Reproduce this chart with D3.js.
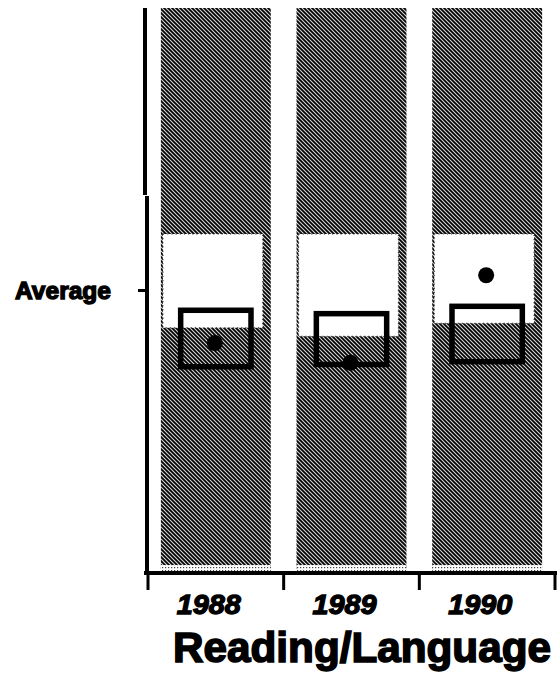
<!DOCTYPE html>
<html>
<head>
<meta charset="utf-8">
<script src="https://cdn.jsdelivr.net/npm/d3@7"></script>
<style>
  html, body { margin: 0; padding: 0; background: #fff; }
  svg { display: block; }
  text { font-family: "Liberation Sans", Arial, sans-serif; fill: #000; }
</style>
</head>
<body>
<svg id="chart" width="559" height="681"></svg>
<script>
// ---- data (scale 0..100, "Average" = 50) ----
const years      = ["1988", "1989", "1990"];
const bandHigh   = [60.0, 60.0, 60.0];   // top of the white (average) band
const bandLow    = [43.4, 41.9, 44.2];   // bottom of the white band
const boxHigh    = [46.5, 45.9, 47.2];   // open box top
const boxLow     = [36.5, 36.9, 37.4];   // open box bottom
const dotValues  = [40.7, 37.2, 52.7];   // black dot
const yTickValues = [50];
const yTickLabels = ["Average"];
const title = "Reading/Language";

const svg = d3.select("#chart");

const x = d3.scaleBand().domain(years).range([148, 555]).paddingInner(0.19).paddingOuter(0.095);
const y = d3.scaleLinear().domain([0, 100]).range([573, 8]);

const defs = svg.append("defs");
const pat = defs.append("pattern")
  .attr("id", "hatch").attr("patternUnits", "userSpaceOnUse")
  .attr("width", 4).attr("height", 4);
pat.append("rect").attr("width", 4).attr("height", 4).attr("fill", "#d4d4d4");
pat.append("path")
  .attr("d", "M-1,-1 L5,5 M-1,3 L1,5 M3,-1 L5,1")
  .attr("stroke", "#000").attr("stroke-width", 1.7);
const pat2 = defs.append("pattern")
  .attr("id", "stip").attr("patternUnits", "userSpaceOnUse")
  .attr("width", 3).attr("height", 3);
pat2.append("rect").attr("width", 3).attr("height", 3).attr("fill", "#fff");
pat2.append("rect").attr("width", 1.2).attr("height", 1.2).attr("fill", "#444");

const rows = years.map((d, i) => ({
  year: d, bh: bandHigh[i], bl: bandLow[i], xh: boxHigh[i], xl: boxLow[i], dot: dotValues[i]
}));

// columns (hatched)
svg.append("g").selectAll("rect").data(rows).join("rect")
  .attr("x", d => x(d.year))
  .attr("y", y(100))
  .attr("width", x.bandwidth())
  .attr("height", y(0) - y(100) - 4)
  .attr("fill", "url(#hatch)");

// lighter stipple strip at the bottom of columns
svg.append("g").selectAll("rect").data(rows).join("rect")
  .attr("x", d => x(d.year))
  .attr("y", y(0) - 8)
  .attr("width", x.bandwidth())
  .attr("height", 6)
  .attr("fill", "url(#stip)");

// white average band
svg.append("g").selectAll("rect").data(rows).join("rect")
  .attr("x", d => x(d.year) + 2)
  .attr("y", d => y(d.bh))
  .attr("width", x.bandwidth() - 10)
  .attr("height", d => y(d.bl) - y(d.bh))
  .attr("fill", "#fff")
  .attr("stroke", "#333").attr("stroke-width", 1.2).attr("stroke-dasharray", "1.2,3");

// dots
svg.append("g").selectAll("circle").data(rows).join("circle")
  .attr("cx", d => x(d.year) + x.bandwidth() / 2 - 1)
  .attr("cy", d => y(d.dot))
  .attr("r", 8)
  .attr("fill", "#000");

// open boxes
const bw = x.bandwidth() * 0.64;
svg.append("g").selectAll("rect").data(rows).join("rect")
  .attr("x", d => x(d.year) + (x.bandwidth() - bw) / 2)
  .attr("y", d => y(d.xh))
  .attr("width", bw)
  .attr("height", d => y(d.xl) - y(d.xh))
  .attr("fill", "none")
  .attr("stroke", "#000").attr("stroke-width", 5.5);

// y axis (with slight jog as in the print)
const ax = svg.append("g").attr("stroke", "#000").attr("stroke-linecap", "butt");
ax.append("line").attr("x1", 145).attr("x2", 145).attr("y1", y(100)).attr("y2", 195).attr("stroke-width", 4);
ax.append("line").attr("x1", 147).attr("x2", 147).attr("y1", 196).attr("y2", y(0) + 2).attr("stroke-width", 4);
// x axis
ax.append("line").attr("x1", 144).attr("x2", 557).attr("y1", y(0)).attr("y2", y(0)).attr("stroke-width", 4);

// y ticks
const yt = svg.append("g").selectAll("g").data(yTickValues).join("g");
yt.append("line").attr("x1", 138).attr("x2", 147)
  .attr("y1", d => y(d)).attr("y2", d => y(d))
  .attr("stroke", "#000").attr("stroke-width", 3);
yt.append("text")
  .attr("x", 15).attr("y", d => y(d) + 8)
  .attr("font-size", 23).attr("font-weight", "bold")
  .attr("stroke", "#000").attr("stroke-width", 1.3)
  .attr("textLength", 96).attr("lengthAdjust", "spacingAndGlyphs")
  .text((d, i) => yTickLabels[i]);

// x ticks at group boundaries
const step = x.step();
const bounds = [0].concat(years.map(d => x(d) + x.bandwidth() + (step - x.bandwidth()) / 2 - 148));
svg.append("g").selectAll("line").data(bounds).join("line")
  .attr("x1", d => Math.min(148 + d, 555)).attr("x2", d => Math.min(148 + d, 555))
  .attr("y1", y(0)).attr("y2", y(0) + 17)
  .attr("stroke", "#000").attr("stroke-width", 3);

// year labels
svg.append("g").selectAll("text").data(years).join("text")
  .attr("x", d => x(d) + x.bandwidth() / 2 - 7)
  .attr("y", 614)
  .attr("text-anchor", "middle")
  .attr("font-size", 27).attr("font-weight", "bold").attr("font-style", "italic")
  .attr("stroke", "#000").attr("stroke-width", 1.3)
  .attr("textLength", 64).attr("lengthAdjust", "spacingAndGlyphs")
  .text(d => d);

// title
svg.append("text")
  .attr("x", 173).attr("y", 662)
  .attr("font-size", 42).attr("font-weight", "bold")
  .attr("stroke", "#000").attr("stroke-width", 1.6)
  .attr("textLength", 378).attr("lengthAdjust", "spacingAndGlyphs")
  .text(title);
</script>
</body>
</html>
